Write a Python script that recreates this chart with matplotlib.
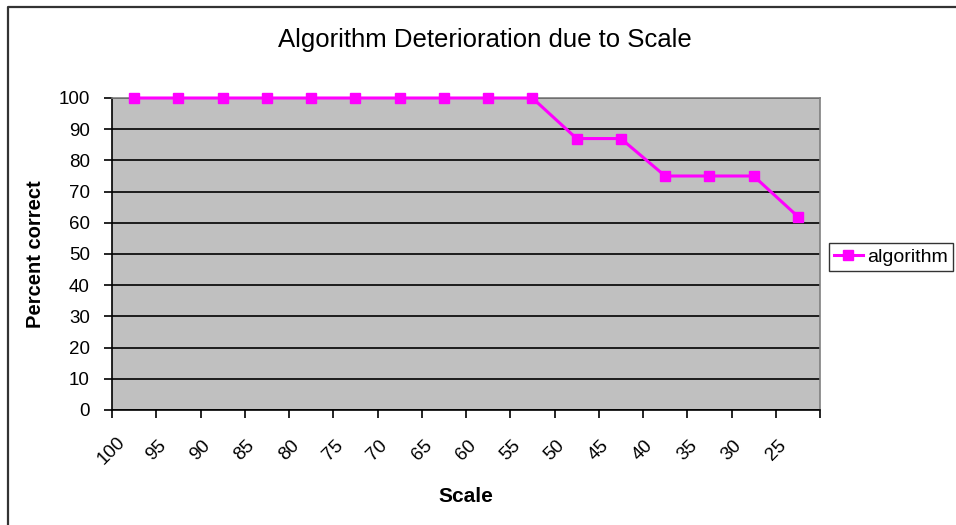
import matplotlib
matplotlib.use("Agg")
import matplotlib.pyplot as plt
from matplotlib.lines import Line2D
import numpy as np

plt.rcParams['font.family'] = ['Liberation Sans', 'DejaVu Sans']

categories = ['100', '95', '90', '85', '80', '75', '70', '65', '60', '55',
              '50', '45', '40', '35', '30', '25']
algorithm = [100, 100, 100, 100, 100, 100, 100, 100, 100, 100,
             87, 87, 75, 75, 75, 62]
y_ticks = list(range(0, 101, 10))

W, H = 956, 525
fig = plt.figure(figsize=(W / 100, H / 100), dpi=100)
fig.patch.set_facecolor('white')

ax = fig.add_axes([112 / W, 1 - 410 / H, (820 - 112) / W, (410 - 98) / H])
ax.set_facecolor('#C0C0C0')

x = np.arange(len(categories))
ax.plot(x, algorithm, color='#FF00FF', lw=2.2, marker='s', ms=6.5,
        label='algorithm', zorder=3, clip_on=False)

ax.set_xlim(-0.5, len(categories) - 0.5)
ax.set_ylim(0, 100)
ax.set_yticks(y_ticks)
ax.set_yticklabels([str(v) for v in y_ticks], fontsize=13.5)
ax.yaxis.grid(True, color='black', lw=1.2)
ax.set_axisbelow(True)

ax.set_xticks(np.arange(len(categories) + 1) - 0.5)
ax.set_xticklabels(categories + [''], rotation=45, ha='center', va='center',
                   fontsize=13.5)
ax.tick_params(axis='x', length=6, width=1.2, pad=23, direction='out')
ax.tick_params(axis='y', length=6, width=1.2, pad=10, direction='out')

for s in ['left', 'bottom']:
    ax.spines[s].set_color('black')
    ax.spines[s].set_linewidth(1.2)
for s in ['top', 'right']:
    ax.spines[s].set_color('#808080')
    ax.spines[s].set_linewidth(1.2)

fig.text(485 / W, 1 - 40 / H, 'Algorithm Deterioration due to Scale',
         ha='center', va='center', fontsize=18.5)
fig.text(466 / W, 1 - 497 / H, 'Scale', ha='center', va='center',
         fontsize=15, fontweight='bold')
fig.text(36 / W, 1 - 254 / H, 'Percent correct', ha='center', va='center',
         rotation=90, fontsize=14.5, fontweight='bold')

leg = fig.legend(handles=[Line2D([], [], color='#FF00FF', lw=2.2, marker='s', ms=6.5)],
                 labels=['algorithm'], loc='center left',
                 bbox_to_anchor=(829 / W, 1 - 257 / H), frameon=True,
                 fancybox=False, fontsize=14, handlelength=1.5,
                 handletextpad=0.2, borderpad=0.25, borderaxespad=0)
leg.get_frame().set_edgecolor('black')
leg.get_frame().set_linewidth(1.0)

# outer chart border (top and left visible)
fig.add_artist(Line2D([8 / W, 8 / W, 1.0], [0.0, 1 - 7 / H, 1 - 7 / H],
                      transform=fig.transFigure, color='#333333', lw=1.6))

fig.savefig('out.png', dpi=100)
